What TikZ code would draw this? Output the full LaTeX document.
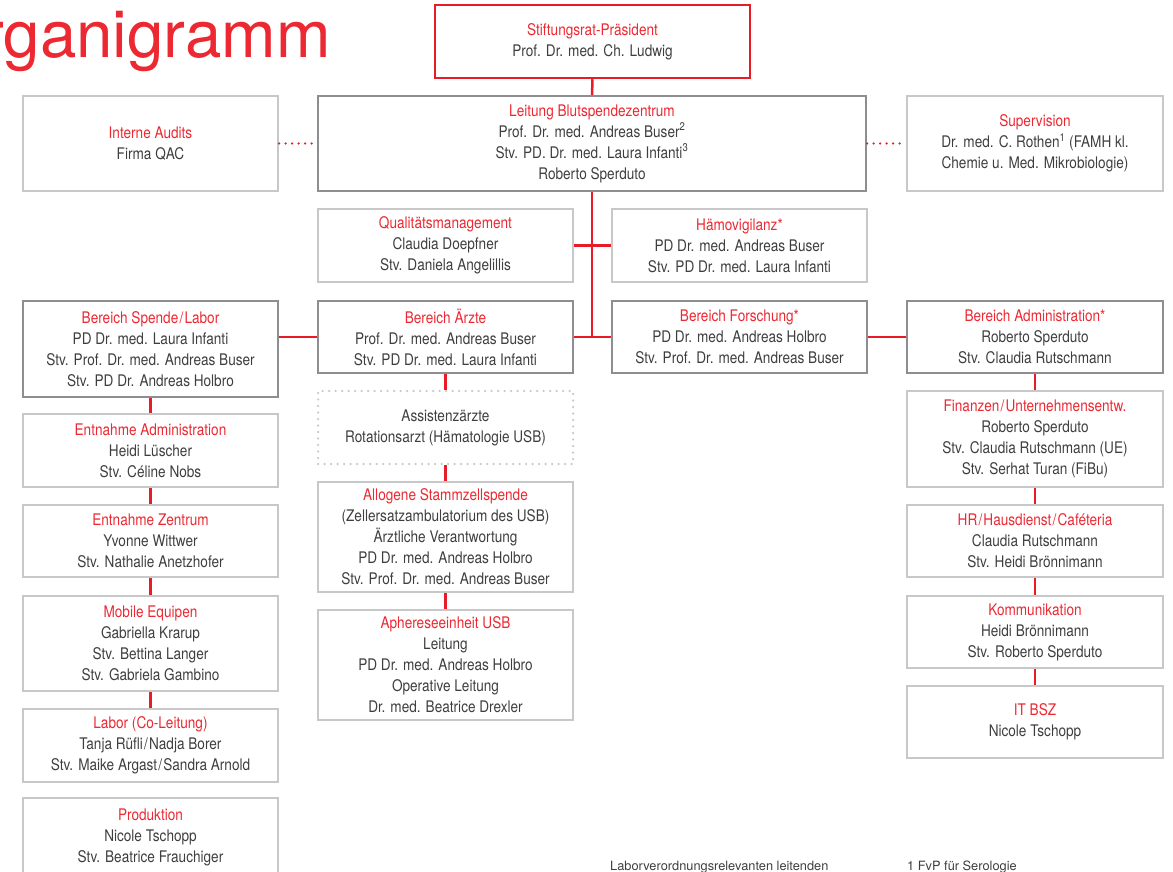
\documentclass[tikz,border=0pt]{standalone}
\usepackage{fontspec}
\setmainfont{TeX Gyre Heros}[FakeStretch=0.85]
\newfontfamily\footfont{TeX Gyre Heros}
\newfontfamily\titlefont{TeX Gyre Heros}
\definecolor{hdred}{RGB}{236,40,50}
\definecolor{lnred}{RGB}{232,28,38}
\definecolor{txgray}{RGB}{62,62,62}
\definecolor{bdlight}{RGB}{200,200,200}
\definecolor{bddark}{RGB}{142,142,146}
\newcommand{\hd}[1]{{\color{hdred}#1}}
\newcommand{\slsep}{\kern1.2pt/\kern1.2pt}
\tikzset{
  box/.style={draw=bdlight, line width=2pt, inner sep=0pt, align=center, text=txgray,
    font=\fontsize{16}{21}\selectfont, minimum width=255pt},
  mainbox/.style={box, draw=bddark},
  redbox/.style={box, draw=lnred, line width=2.5pt},
  dotbox/.style={box, draw=bdlight, line cap=round, dash pattern=on 0pt off 6.5pt, line width=2.5pt},
  conn/.style={draw=lnred, line width=2.5pt},
  dotconn/.style={draw=lnred, line width=2.5pt, line cap=round, dash pattern=on 0pt off 6.5pt},
}
\begin{document}
\begin{tikzpicture}[x=1pt,y=-1pt]
\useasboundingbox (0,0) rectangle (1173,872);
\clip (0,0) rectangle (1173,872);
\node[anchor=base east, text=hdred, font=\titlefont\fontsize{65.5}{70}\selectfont, inner sep=0pt] (title) at (331,58) {Organigramm};

\node[redbox, minimum width=315pt, minimum height=73pt] (top) at (592.5,41.5) {\hd{Stiftungsrat-Präsident}\\Prof. Dr. med. Ch. Ludwig};
\node[mainbox, minimum width=548pt, minimum height=95pt] (leit) at (592,143.5) {\hd{Leitung Blutspendezentrum}\\Prof. Dr. med. Andreas Buser\textsuperscript{2}\\Stv. PD. Dr. med. Laura Infanti\textsuperscript{3}\\Roberto Sperduto};
\node[box, minimum height=95pt] (audits) at (150.5,143.5) {\hd{Interne Audits}\\Firma QAC};
\node[box, minimum width=256pt, minimum height=95pt] (superv) at (1035,143.5) {\hd{Supervision}\\Dr. med. C. Rothen\textsuperscript{1} (FAMH kl.\\Chemie u. Med. Mikrobiologie)};
\node[box, minimum height=73pt] (qual) at (445.5,245.5) {\hd{Qualitätsmanagement}\\Claudia Doepfner\\Stv. Daniela Angelillis};
\node[box, minimum height=73pt] (haemo) at (739.5,245.5) {\hd{Hämovigilanz*}\\PD Dr. med. Andreas Buser\\Stv. PD Dr. med. Laura Infanti};

\node[mainbox, minimum height=96pt] (spende) at (150.5,349) {\hd{Bereich Spende\slsep Labor}\\PD Dr. med. Laura Infanti\\Stv. Prof. Dr. med. Andreas Buser\\Stv. PD Dr. Andreas Holbro};
\node[mainbox, minimum height=72pt] (aerzte) at (445.5,337) {\hd{Bereich Ärzte}\\Prof. Dr. med. Andreas Buser\\Stv. PD Dr. med. Laura Infanti};
\node[mainbox, minimum height=72pt] (forsch) at (739.5,337) {\hd{Bereich Forschung*}\\PD Dr. med. Andreas Holbro\\Stv. Prof. Dr. med. Andreas Buser};
\node[mainbox, minimum width=256pt, minimum height=72pt] (admin) at (1035,337) {\hd{Bereich Administration*}\\Roberto Sperduto\\Stv. Claudia Rutschmann};

\node[dotbox, minimum height=73pt] (assist) at (445.5,427.5) {Assistenzärzte\\Rotationsarzt (Hämatologie USB)};
\node[box, minimum height=110pt] (allo) at (445.5,537) {\hd{Allogene Stammzellspende}\\(Zellersatzambulatorium des USB)\\Ärztliche Verantwortung\\PD Dr. med. Andreas Holbro\\Stv. Prof. Dr. med. Andreas Buser};
\node[box, minimum height=110pt] (aph) at (445.5,665) {\hd{Aphereseeinheit USB}\\Leitung\\PD Dr. med. Andreas Holbro\\Operative Leitung\\Dr. med. Beatrice Drexler};

\node[box, minimum height=73pt] (entadm) at (150.5,450.5) {\hd{Entnahme Administration}\\Heidi Lüscher\\Stv. Céline Nobs};
\node[box, minimum height=72pt] (entz) at (150.5,541) {\hd{Entnahme Zentrum}\\Yvonne Wittwer\\Stv. Nathalie Anetzhofer};
\node[box, minimum height=95pt] (mobile) at (150.5,643.5) {\hd{Mobile Equipen}\\Gabriella Krarup\\Stv. Bettina Langer\\Stv. Gabriela Gambino};
\node[box, minimum height=73pt] (labor) at (150.5,745.5) {\hd{Labor (Co-Leitung)}\\Tanja Rüfli\slsep Nadja Borer\\Stv. Maike Argast\slsep Sandra Arnold};
\node[box, minimum height=78pt] (prod) at (150.5,837) {\hd{Produktion}\\Nicole Tschopp\\Stv. Beatrice Frauchiger};

\node[box, minimum width=256pt, minimum height=96pt] (finanz) at (1035,439) {\hd{Finanzen\slsep Unternehmensentw.}\\Roberto Sperduto\\Stv. Claudia Rutschmann (UE)\\Stv. Serhat Turan (FiBu)};
\node[box, minimum width=256pt, minimum height=72pt] (hr) at (1035,541) {\hd{HR\slsep Hausdienst\slsep Caféteria}\\Claudia Rutschmann\\Stv. Heidi Brönnimann};
\node[box, minimum width=256pt, minimum height=72pt] (komm) at (1035,632) {\hd{Kommunikation}\\Heidi Brönnimann\\Stv. Roberto Sperduto};
\node[box, minimum width=256pt, minimum height=72pt] (it) at (1035,722) {\hd{IT BSZ}\\Nicole Tschopp};

\node[anchor=base west, inner sep=0pt, text=txgray, font=\footfont\fontsize{12.8}{14}\selectfont] (foot1) at (610,870) {Laborverordnungsrelevanten leitenden};
\node[anchor=base west, inner sep=0pt, text=txgray, font=\footfont\fontsize{12.8}{14}\selectfont] (foot2) at (907,870) {1 FvP für Serologie};

% connectors
\draw[conn] (top.south) -- (leit.north);
\coordinate (spine) at (leit.south |- aerzte.east);
\draw[conn] (leit.south) -- (spine);
\draw[conn] (qual.east) -- (haemo.west);
\draw[conn] (aerzte.east) -- (forsch.west);
\draw[conn] (aerzte.west) -- (aerzte.west -| spende.east);
\draw[conn] (forsch.east) -- (admin.west);
\draw[dotconn] (audits.east) -- (leit.west);
\draw[dotconn] (leit.east) -- (superv.west);
\draw[conn] (spende.south) -- (entadm.north);
\draw[conn] (entadm.south) -- (entz.north);
\draw[conn] (entz.south) -- (mobile.north);
\draw[conn] (mobile.south) -- (labor.north);
\draw[conn] (aerzte.south) -- (assist.north);
\draw[conn] (assist.south) -- (allo.north);
\draw[conn] (allo.south) -- (aph.north);
\draw[conn] (admin.south) -- (finanz.north);
\draw[conn] (finanz.south) -- (hr.north);
\draw[conn] (hr.south) -- (komm.north);
\draw[conn] (komm.south) -- (it.north);
\end{tikzpicture}
\end{document}
